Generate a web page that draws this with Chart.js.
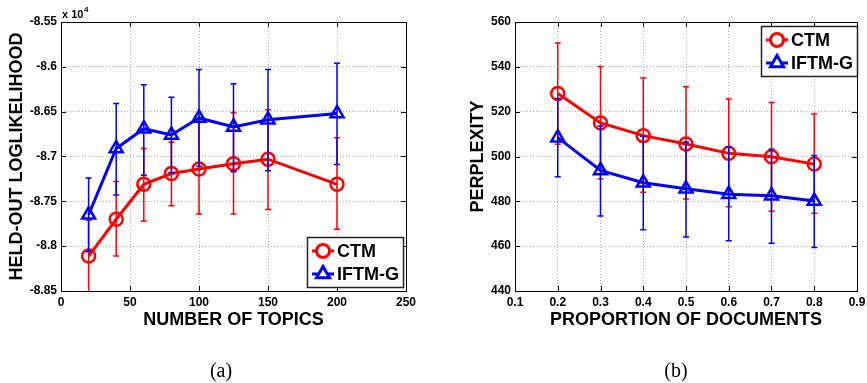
<!DOCTYPE html>
<html>
<head>
<meta charset="utf-8">
<script src="https://cdn.jsdelivr.net/npm/chart.js@4.4.1/dist/chart.umd.min.js"></script>
<style>
  html, body { margin: 0; padding: 0; background: #fff; }
  #wrap { position: relative; width: 867px; height: 383px; overflow: hidden; }
  #chartA { position: absolute; left: 0; top: 0; }
  #chartB { position: absolute; left: 430px; top: 0; }
  .caption {
    position: absolute; top: 358px; width: 60px; text-align: center;
    font-family: "Liberation Serif", "DejaVu Serif", serif; font-size: 20px; line-height: 24px; color: #000;
  }
</style>
</head>
<body>
<div id="wrap">
  <canvas id="chartA" width="430" height="383"></canvas>
  <canvas id="chartB" width="437" height="383"></canvas>
  <div class="caption" style="left:191px">(a)</div>
  <div class="caption" style="left:646px">(b)</div>
</div>
<script>
// (a) held-out log likelihood, values in units of 10^4
const topics = [20, 40, 60, 80, 100, 125, 150, 200];
const ctmLL = [-8.811, -8.770, -8.731, -8.719, -8.714, -8.708, -8.703, -8.731];
const ctmLLLow = [-8.851, -8.811, -8.772, -8.755, -8.764, -8.764, -8.759, -8.781];
const ctmLLHigh = [-8.771, -8.728, -8.691, -8.684, -8.662, -8.651, -8.648, -8.679];
const iftmLL = [-8.765, -8.691, -8.669, -8.676, -8.657, -8.667, -8.659, -8.652];
const iftmLLLow = [-8.806, -8.743, -8.721, -8.718, -8.711, -8.717, -8.716, -8.709];
const iftmLLHigh = [-8.724, -8.641, -8.620, -8.634, -8.603, -8.619, -8.603, -8.596];

// (b) perplexity
const proportions = [0.2, 0.3, 0.4, 0.5, 0.6, 0.7, 0.8];
const ctmPerp = [528.1, 515.0, 509.3, 505.6, 501.4, 499.9, 496.6];
const ctmPerpLow = [505.5, 490.1, 484.0, 481.0, 477.6, 475.6, 474.7];
const ctmPerpHigh = [550.6, 540.2, 535.0, 531.1, 525.7, 524.1, 519.0];
const iftmPerp = [508.4, 493.8, 488.3, 485.6, 483.2, 482.5, 480.1];
const iftmPerpLow = [491.0, 473.5, 467.3, 464.1, 462.4, 461.3, 459.4];
const iftmPerpHigh = [525.9, 513.6, 509.0, 506.5, 504.2, 503.2, 500.5];

const seriesNames = ['CTM', 'IFTM-G'];
const seriesColors = ['#ff0000', '#0000ff'];
const seriesMarkers = ['circle', 'triangle'];

const FAMILY = '"Liberation Sans", Arial, Helvetica, sans-serif';
const tickFont = { family: FAMILY, size: 12, weight: 'bold' };
const titleFont = { family: FAMILY, size: 18, weight: 'bold' };

const toPoints = (xs, ys) => xs.map((x, i) => ({ x: x, y: ys[i] }));

const errorBarPlugin = {
    id: 'errorBars',
    beforeDatasetDraw(chart, args) {
        const ds = chart.data.datasets[args.index];
        if (!ds.errLow) return;
        const { ctx, chartArea, scales } = chart;
        ctx.save();
        ctx.beginPath();
        ctx.rect(chartArea.left, chartArea.top, chartArea.width, chartArea.height);
        ctx.clip();
        ctx.strokeStyle = ds.borderColor;
        ctx.lineWidth = 1.5;
        ds.data.forEach((p, i) => {
            const px = scales.x.getPixelForValue(p.x);
            const top = scales.y.getPixelForValue(ds.errHigh[i]);
            const bot = scales.y.getPixelForValue(ds.errLow[i]);
            ctx.beginPath();
            ctx.moveTo(px, top); ctx.lineTo(px, bot);
            ctx.moveTo(px - 3, top); ctx.lineTo(px + 3, top);
            ctx.moveTo(px - 3, bot); ctx.lineTo(px + 3, bot);
            ctx.stroke();
        });
        ctx.restore();
    }
};

// matlab style box with inward ticks, plus legend box inside the axes
const axesBoxPlugin = {
    id: 'axesBox',
    afterDraw(chart, args, opts) {
        const { ctx, chartArea: a, scales } = chart;
        ctx.save();
        ctx.strokeStyle = '#000';
        ctx.lineWidth = 1;
        ctx.strokeRect(a.left + 0.5, a.top + 0.5, a.width, a.height);
        ctx.beginPath();
        scales.x.ticks.forEach(t => {
            const px = Math.round(scales.x.getPixelForValue(t.value)) + 0.5;
            ctx.moveTo(px, a.bottom); ctx.lineTo(px, a.bottom - 5);
            ctx.moveTo(px, a.top); ctx.lineTo(px, a.top + 5);
        });
        scales.y.ticks.forEach(t => {
            const py = Math.round(scales.y.getPixelForValue(t.value)) + 0.5;
            ctx.moveTo(a.left, py); ctx.lineTo(a.left + 5, py);
            ctx.moveTo(a.right, py); ctx.lineTo(a.right - 5, py);
        });
        ctx.stroke();

        if (opts.multiplier) {
            ctx.fillStyle = '#000';
            ctx.textBaseline = 'alphabetic';
            ctx.textAlign = 'left';
            ctx.font = 'bold 11px ' + FAMILY;
            ctx.fillText('x 10', a.left + 1, a.top - 4);
            ctx.font = 'bold 8px ' + FAMILY;
            ctx.fillText('4', a.left + 23, a.top - 10);
        }

        const b = opts.legend;
        if (b) {
            ctx.fillStyle = '#fff';
            ctx.fillRect(b.x, b.y, b.w, b.h);
            ctx.strokeStyle = '#222';
            ctx.lineWidth = 1.5;
            ctx.strokeRect(b.x + 0.5, b.y + 0.5, b.w, b.h);
            chart.data.datasets.forEach((ds, i) => {
                const cy = b.y + 14 + i * 23;
                ctx.strokeStyle = ds.borderColor;
                ctx.lineWidth = 3;
                ctx.beginPath();
                ctx.moveTo(b.x + 5, cy); ctx.lineTo(b.x + 27, cy);
                ctx.stroke();
                ctx.fillStyle = '#fff';
                Chart.helpers.drawPoint(ctx, {
                    pointStyle: ds.pointStyle, radius: ds.pointRadius,
                    borderWidth: ds.pointBorderWidth, rotation: 0
                }, b.x + 16, cy);
                ctx.fillStyle = '#000';
                ctx.font = 'bold 18px ' + FAMILY;
                ctx.textBaseline = 'middle';
                ctx.textAlign = 'left';
                ctx.fillText(ds.label, b.x + 30, cy + 1);
            });
        }
        ctx.restore();
    }
};

function makeDataset(i, xs, ys, lows, highs) {
    return {
        label: seriesNames[i],
        data: toPoints(xs, ys),
        errLow: lows,
        errHigh: highs,
        borderColor: seriesColors[i],
        backgroundColor: 'rgba(255,255,255,0)',
        borderWidth: 3,
        pointStyle: seriesMarkers[i],
        pointRadius: i === 0 ? 6.5 : 7.5,
        pointBorderWidth: 2.5,
        pointBorderColor: seriesColors[i],
        pointBackgroundColor: 'rgba(255,255,255,0)',
        tension: 0,
        order: 1 - i
    };
}

function axisOptions(cfg) {
    return {
        x: {
            type: 'linear',
            min: cfg.xMin, max: cfg.xMax,
            afterFit: s => { s.height = 40; s.paddingLeft = 0; s.paddingRight = 0; },
            ticks: {
                stepSize: cfg.xStep, color: '#000', font: tickFont, padding: 4, maxRotation: 0,
                callback: v => Number(v.toFixed(cfg.xDigits)).toString()
            },
            grid: { color: '#a8a8a8', drawTicks: false },
            border: { display: false, dash: [1, 2] },
            title: { display: true, text: cfg.xTitle, color: '#000', font: titleFont, padding: 0 }
        },
        y: {
            min: cfg.yMin, max: cfg.yMax,
            afterFit: s => { s.width = cfg.yWidth; s.paddingTop = 0; s.paddingBottom = 0; },
            ticks: {
                stepSize: cfg.yStep, color: '#000', font: tickFont, padding: 4,
                callback: v => Number(v.toFixed(2)).toString()
            },
            grid: { color: '#a8a8a8', drawTicks: false },
            border: { display: false, dash: [1, 2] },
            title: { display: true, text: cfg.yTitle, color: '#000', font: titleFont, padding: 0 }
        }
    };
}

const chartA = new Chart(document.getElementById('chartA'), {
    type: 'line',
    data: {
        datasets: [
            makeDataset(0, topics, ctmLL, ctmLLLow, ctmLLHigh),
            makeDataset(1, topics, iftmLL, iftmLLLow, iftmLLHigh)
        ]
    },
    options: {
        responsive: false,
        animation: false,
        layout: { padding: { left: 6, right: 24, top: 22, bottom: 52 } },
        plugins: {
            legend: { display: false },
            tooltip: { enabled: false },
            axesBox: { multiplier: true, legend: { x: 307, y: 237, w: 96, h: 50 } }
        },
        scales: axisOptions({
            xMin: 0, xMax: 250, xStep: 50, xDigits: 0, xTitle: 'NUMBER OF TOPICS',
            yMin: -8.85, yMax: -8.55, yStep: 0.05, yWidth: 55, yTitle: 'HELD-OUT LOGLIKELIHOOD'
        })
    },
    plugins: [errorBarPlugin, axesBoxPlugin]
});

const chartB = new Chart(document.getElementById('chartB'), {
    type: 'line',
    data: {
        datasets: [
            makeDataset(0, proportions, ctmPerp, ctmPerpLow, ctmPerpHigh),
            makeDataset(1, proportions, iftmPerp, iftmPerpLow, iftmPerpHigh)
        ]
    },
    options: {
        responsive: false,
        animation: false,
        layout: { padding: { left: 37, right: 7, top: 22, bottom: 52 } },
        plugins: {
            legend: { display: false },
            tooltip: { enabled: false },
            axesBox: { multiplier: false, legend: { x: 331, y: 26, w: 96, h: 50 } }
        },
        scales: axisOptions({
            xMin: 0.1, xMax: 0.9, xStep: 0.1, xDigits: 1, xTitle: 'PROPORTION OF DOCUMENTS',
            yMin: 440, yMax: 560, yStep: 20, yWidth: 48, yTitle: 'PERPLEXITY'
        })
    },
    plugins: [errorBarPlugin, axesBoxPlugin]
});
</script>
</body>
</html>
